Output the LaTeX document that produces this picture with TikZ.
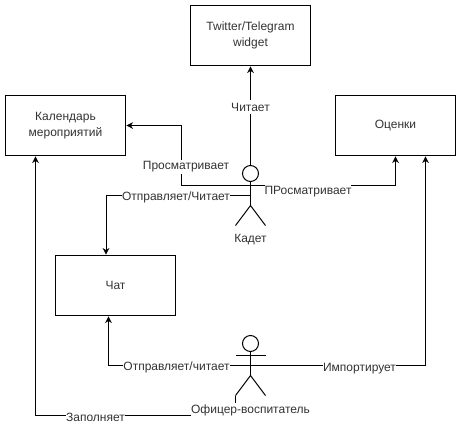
\documentclass[tikz,border=0pt]{standalone}
\usepackage{fontspec}
\setmainfont{Liberation Sans}
\usetikzlibrary{arrows.meta,positioning,calc}

\begin{document}
\begin{tikzpicture}[x=0.75pt, y=-0.75pt,
  box/.style={rectangle, draw=black, line width=0.75pt, fill=white, minimum width=90pt, minimum height=45pt,
    inner sep=0pt, outer sep=0pt, text width=84pt, align=center, font=\fontsize{9}{11.5}\selectfont, text=black!80},
  head/.style={circle, draw=black, line width=0.75pt, minimum size=12pt, inner sep=0pt, outer sep=0pt},
  limb/.style={black, line width=0.75pt},
  arr/.style={-{Stealth[length=5pt, width=5pt, inset=1.5pt]}, black, line width=0.75pt, shorten >=0.6pt},
  lbl/.style={fill=white, inner sep=0pt, minimum height=10.5pt, font=\fontsize{9}{10.5}\selectfont, text=black!80}]
\useasboundingbox (0,0) rectangle (461,429);
\node[box] (cal) at (65.5,125.5) {Календарь\\мероприятий};
\node[box, above right=22.5pt and 48.75pt of cal] (twitter) {Twitter/Telegram\\widget};
\node[box, right=67.5pt of cal, xshift=90pt] (marks) {Оценки};
\node[box, below=75pt of cal, xshift=37.5pt] (chat) {Чат};
\node[head, below=75pt of twitter] (kadetHead) {};
\node[head, below=115.5pt of kadetHead] (officerHead) {};
% actors
\foreach \who in {kadet,officer} {
  \coordinate (\who Hip) at ($(\who Head.south)+(0,24)$);
  \coordinate (\who ArmL) at ($(\who Head.south)+(-15,4)$);
  \coordinate (\who ArmR) at ($(\who Head.south)+(15,4)$);
  \coordinate (\who Mid) at ($(\who Head.south)+(0,14)$);
  \coordinate (\who LegL) at ($(\who Hip)+(-15,20)$);
  \coordinate (\who LegR) at ($(\who Hip)+(15,20)$);
  \draw[limb] (\who Head.south) -- (\who Hip);
  \draw[limb] (\who ArmL) -- (\who ArmR);
  \draw[limb] (\who LegL) -- (\who Hip) -- (\who LegR);
}
\coordinate (chatTop) at ($(chat.north)+(-9.5,0)$);
\coordinate (chatBottom) at ($(chat.south)+(-7,0)$);
\coordinate (calBottom) at ($(cal.south)+(-30,0)$);
\coordinate (marksBottom) at ($(marks.south)+(30,0)$);
% connectors
\draw[arr] (kadetHead.north) -- (twitter.south);
\draw[arr] (kadetArmL) -- ++(-54.5,0) |- (cal.east);
\draw[arr] (kadetArmR) -| (marks.south);
\draw[arr] (kadetMid) -| (chatTop);
\draw[arr] (officerMid) -| (chatBottom);
\draw[arr] (officerMid) -| (marksBottom);
\draw[arr] (officerLegL) -- ++(0,20) -| (calBottom);
% labels
\node[lbl] (lblRead) at (250.5,107) {Читает};
\node[lbl] (lblView) at (186,167) {Просматривает};
\node[lbl] (lblGrades) at (308,191.5) {ПРосматривает};
\node[lbl] (lblSend) at (176,197) {Отправляет/Читает};
\node[lbl] (lblKadet) at (250.5,240) {Кадет};
\node[lbl] (lblChat) at (176.5,367) {Отправляет/читает};
\node[lbl] (lblImport) at (359.5,369) {Импортирует};
\node[lbl] (lblOfficer) at (250.5,410) {Офицер-воспитатель};
\node[lbl] (lblFill) at (95.5,417) {Заполняет};
\end{tikzpicture}
\end{document}
